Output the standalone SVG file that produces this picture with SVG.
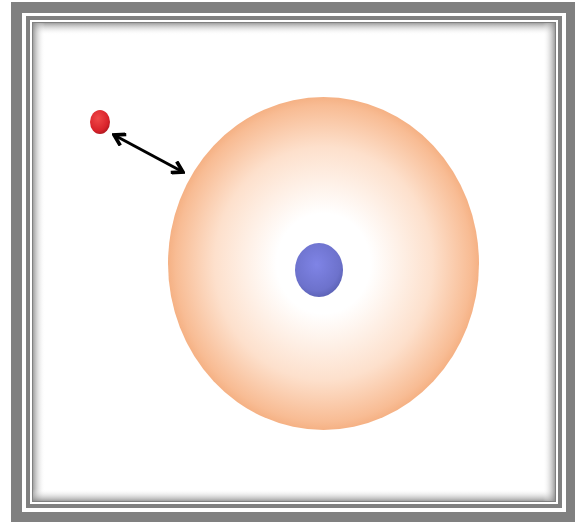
<svg xmlns="http://www.w3.org/2000/svg" width="575" height="522" viewBox="0 0 575 522">
<defs>
<radialGradient id="halo" cx="0.5" cy="0.5" r="0.5">
<stop offset="0" stop-color="#ffffff"/>
<stop offset="0.3" stop-color="#ffffff"/>
<stop offset="0.7" stop-color="#fde0cc"/>
<stop offset="0.95" stop-color="#f8bc94"/>
<stop offset="1" stop-color="#f5b184"/>
</radialGradient>
<radialGradient id="blue" cx="0.45" cy="0.4" r="0.6">
<stop offset="0" stop-color="#7f84e6"/>
<stop offset="0.8" stop-color="#6d72cc"/>
<stop offset="1" stop-color="#5e64b8"/>
</radialGradient>
<radialGradient id="red" cx="0.4" cy="0.35" r="0.65">
<stop offset="0" stop-color="#f04848"/>
<stop offset="0.8" stop-color="#d8222a"/>
<stop offset="1" stop-color="#b51a22"/>
</radialGradient>
<linearGradient id="shT" x1="0" y1="0" x2="0" y2="1">
<stop offset="0" stop-color="#888" stop-opacity="0.8"/>
<stop offset="1" stop-color="#fff" stop-opacity="0"/>
</linearGradient>
<linearGradient id="shL" x1="0" y1="0" x2="1" y2="0">
<stop offset="0" stop-color="#888" stop-opacity="0.8"/>
<stop offset="1" stop-color="#fff" stop-opacity="0"/>
</linearGradient>
<linearGradient id="shB" x1="0" y1="1" x2="0" y2="0">
<stop offset="0" stop-color="#888" stop-opacity="0.8"/>
<stop offset="1" stop-color="#fff" stop-opacity="0"/>
</linearGradient>
<linearGradient id="shR" x1="1" y1="0" x2="0" y2="0">
<stop offset="0" stop-color="#888" stop-opacity="0.8"/>
<stop offset="1" stop-color="#fff" stop-opacity="0"/>
</linearGradient>
<marker id="ah" viewBox="0 0 10 10" refX="8.5" refY="5" markerWidth="5" markerHeight="5" orient="auto-start-reverse">
<path d="M1.5,0.8 L8.5,5 L1.5,9.2" fill="none" stroke="#000" stroke-width="2.4" stroke-linejoin="miter"/>
</marker>
<style>
.gray{fill:#808080}
.white{fill:#ffffff}
</style>
</defs>
<rect width="575" height="522" fill="#ffffff"/>
<g id="frame">
<rect class="gray" x="11" y="2" width="564" height="520"/>
<rect class="white" x="22" y="13" width="544" height="499"/>
<rect class="gray" x="26" y="16" width="536" height="492"/>
<rect class="white" x="30" y="20" width="528" height="484"/>
<rect class="gray" x="32" y="22" width="524" height="480"/>
<rect class="white" x="33" y="23" width="522" height="478"/>
<rect x="33" y="23" width="522" height="12" fill="url(#shT)"/>
<rect x="33" y="23" width="12" height="478" fill="url(#shL)"/>
<rect x="33" y="489" width="522" height="12" fill="url(#shB)"/>
<rect x="543" y="23" width="12" height="478" fill="url(#shR)"/>
</g>
<g id="halo-node">
<ellipse cx="323.5" cy="263.5" rx="155.5" ry="166.5" fill="url(#halo)"/>
</g>
<g id="nucleus">
<ellipse cx="319" cy="270" rx="24" ry="27" fill="url(#blue)"/>
</g>
<g id="electron">
<ellipse cx="100" cy="122" rx="10" ry="12" fill="url(#red)"/>
</g>
<g id="connectors">
<line x1="114" y1="135" x2="183" y2="172" stroke="#000" stroke-width="3" marker-start="url(#ah)" marker-end="url(#ah)"/>
</g>
</svg>
